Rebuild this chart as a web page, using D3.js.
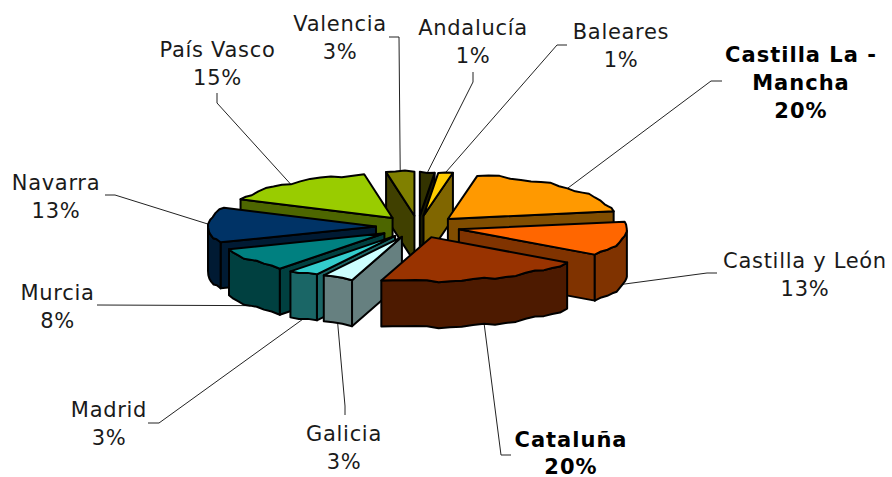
<!DOCTYPE html>
<html><head><meta charset="utf-8">
<script src="https://cdn.jsdelivr.net/npm/d3@7"></script>
<style>html,body{margin:0;padding:0;background:#fff}svg{display:block}
text{font-family:"DejaVu Sans",sans-serif;font-size:21px;letter-spacing:0.7px;fill:#1a1a1a;text-anchor:middle}
text.b{font-weight:bold;fill:#000;letter-spacing:1px}</style>
</head><body><script>
const regions=["Andalucía","Baleares","Castilla La -\nMancha","Castilla y León","Cataluña","Galicia","Madrid","Murcia","Navarra","País Vasco","Valencia"];
const shares=[1.4,1.4,19.6,12.6,19.8,2.9,3,8.1,13.2,15.3,2.7];
const shownPct=[1,1,20,13,20,3,3,8,13,15,3];
const topColors=["#333300","#FFCC00","#FF9900","#FF6600","#993300","#CCFFFF","#33CCCC","#008080","#003366","#99CC00","#808000"];
const boldRegions=["Castilla La -\nMancha","Cataluña"];

// layout
const W=892,H=477,cx=418,cy=226.7,rx=168,ry=44,depth=46,explode=0.25;
const labelAt=[[473,35],[621,39],[801,62],[805,268],[571,447],[344,441],[109,417],[57.5,300],[56,190],[217.5,57],[340,31]];
const lineGap=[28,28,28,28,26.5,28,28,28,28,28,28];
const elbows=[[[473,72],[473,82]],[[567,45],[557,45]],[[722,81],[711,81]],[[717,273],[707,273]],[[511,455],[501,455]],[[345,415],[345,406]],[[148,423],[159,423]],[[97,305]],[[105,195],[115,195]],[[217,93],[217,103]],[[389,37],[399,37]]];

const x=d3.scaleLinear().domain([-1,1]).range([cx-rx,cx+rx]);
const y=d3.scaleLinear().domain([-1,1]).range([cy-ry,cy+ry]);
const svg=d3.select("body").append("svg").attr("width",W).attr("height",H);
const pie=d3.pie().sort(null).startAngle(0).endAngle(2*Math.PI);
const arcs=pie(shares).map((d,i)=>{
  const mid=(d.startAngle+d.endAngle)/2;
  return {i,a0:d.startAngle,a1:d.endAngle,mid,
    ax:x(Math.sin(mid)*explode),ay:y(-Math.cos(mid)*explode),
    top:topColors[i]};
});
const half=c=>{const r=d3.rgb(c);return d3.rgb(r.r/2,r.g/2,r.b/2).formatHex();};
const wob=t=>1.0*Math.sin(t*17)+0.5*Math.sin(t*37);
const px=(s,t)=>s.ax+(x(Math.sin(t))-cx);
const py=(s,t)=>s.ay+(y(-Math.cos(t))-cy)+wob(t);
const samples=(a,b)=>{const n=Math.max(2,Math.ceil((b-a)/(Math.PI/45)));return d3.range(n+1).map(k=>a+(b-a)*k/n);};
const line=d3.line();

// leaders
arcs.forEach(s=>{
  const front=Math.cos(s.mid)<0;
  const end=[px(s,s.mid),py(s,s.mid)+(front?depth:0)];
  svg.append("path").attr("d",line([...elbows[s.i],end])).attr("fill","none").attr("stroke","#222").attr("stroke-width",1);
});

// slices, back to front
const face=(pts,fill)=>svg.append("path").attr("d",line(pts)+"Z").attr("fill",fill)
  .attr("stroke","#000").attr("stroke-width",2).attr("stroke-linejoin","round");
arcs.slice().sort((p,q)=>Math.cos(q.mid)-Math.cos(p.mid)).forEach(s=>{
  const side=half(s.top);
  const cut=t=>{const ox=px(s,t),oy=py(s,t);
    face([[s.ax,s.ay],[ox,oy],[ox,oy+depth],[s.ax,s.ay+depth]],side);};
  if(Math.sin(s.a0)<-1e-6) cut(s.a0);
  if(Math.sin(s.a1)>1e-6) cut(s.a1);
  const lo=Math.max(s.a0,Math.PI/2),hi=Math.min(s.a1,3*Math.PI/2);
  if(hi>lo){
    const ts=samples(lo,hi);
    face([...ts.map(t=>[px(s,t),py(s,t)]),...ts.slice().reverse().map(t=>[px(s,t),py(s,t)+depth])],side);
  }
  face([[s.ax,s.ay],...samples(s.a0,s.a1).map(t=>[px(s,t),py(s,t)])],s.top);
});

// labels
regions.forEach((r,i)=>{
  const lines=[...r.split("\n"),shownPct[i]+"%"];
  lines.forEach((t,k)=>svg.append("text").attr("class",boldRegions.includes(r)?"b":null)
    .attr("x",labelAt[i][0]).attr("y",labelAt[i][1]+k*lineGap[i]).text(t));
});
</script></body></html>
